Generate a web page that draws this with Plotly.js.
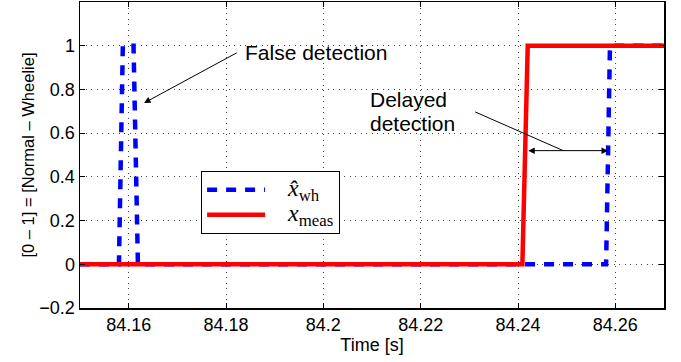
<!DOCTYPE html>
<html>
<head>
<meta charset="utf-8">
<script src="https://cdn.plot.ly/plotly-3.0.1.min.js"></script>
<style>html,body{margin:0;padding:0;background:#fff;}#chart{width:681px;height:362px;}</style>
</head>
<body>
<div id="chart"></div>
<script>
// Estimated detection signal (blue dashed)
const whTime  = [84.15, 84.1580, 84.1588, 84.1610, 84.1619, 84.2581, 84.2589, 84.27];
const whValue = [0,     0,       1,       1,       0,       0,       1,       1];
// Measured signal (red solid)
const measTime  = [84.15, 84.2409, 84.2420, 84.27];
const measValue = [0,     0,       1,       1];

const xTicks = [84.16, 84.18, 84.2, 84.22, 84.24, 84.26];
const xTickText = ['84.16', '84.18', '84.2', '84.22', '84.24', '84.26'];
const yTicks = [-0.2, 0, 0.2, 0.4, 0.6, 0.8, 1];
const yTickText = ['\u22120.2', '0', '0.2', '0.4', '0.6', '0.8', '1'];

const SANS = 'Liberation Sans, Arial, sans-serif';
const SERIF = 'Liberation Serif, Times New Roman, serif';

const traces = [
  {x: whTime, y: whValue, mode: 'lines',
   name: '<span style="font-size:24px">\u00a0\u00a0\u00a0<i>x\u0302</i><sub>wh</sub></span>',
   line: {color: '#0000ff', width: 4.5, dash: '10px,9px'}},
  {x: measTime, y: measValue, mode: 'lines',
   name: '<span style="font-size:24px">\u00a0\u00a0\u00a0<i>x</i><sub>meas</sub></span>',
   line: {color: '#ff0000', width: 4.5}}
];

const axisCommon = {
  showline: true, linecolor: '#000', linewidth: 1.5, mirror: 'ticks',
  ticks: 'inside', ticklen: 5, tickcolor: '#000', tickwidth: 1,
  showgrid: true, gridcolor: '#444', griddash: '1px,4.5px', gridwidth: 1,
  zeroline: false, tickfont: {family: SANS, size: 18, color: '#000'}
};

const layout = {
  width: 681, height: 362,
  margin: {l: 80, r: 17, t: 2, b: 54},
  paper_bgcolor: '#fff', plot_bgcolor: '#fff',
  showlegend: true,
  xaxis: Object.assign({}, axisCommon, {
    range: [84.15, 84.27], tickvals: xTicks, ticktext: xTickText,
    title: {text: 'Time [s]', font: {family: SANS, size: 18, color: '#000'}, standoff: 2}
  }),
  yaxis: Object.assign({}, axisCommon, {
    range: [-0.2, 1.2], tickvals: yTicks, ticktext: yTickText,
    title: {text: '[0 \u2013 1] = [Normal \u2013 Wheelie]', font: {family: SANS, size: 16.5, color: '#000'}, standoff: 0}
  }),
  legend: {
    x: 0.207, y: 0.448, xanchor: 'left', yanchor: 'top',
    bgcolor: '#fff', bordercolor: '#000', borderwidth: 1.2,
    font: {family: SERIF, size: 17, color: '#000'},
    itemwidth: 58, tracegroupgap: 0
  },
  annotations: [
    {x: 84.16316, y: 0.738, xref: 'x', yref: 'y', ax: 84.1825, ay: 0.971, axref: 'x', ayref: 'y',
     text: '', showarrow: true, arrowhead: 2, arrowsize: 1.3, arrowwidth: 1, arrowcolor: '#000'},
    {x: 84.1835, y: 0.971, xref: 'x', yref: 'y', text: 'False detection', showarrow: false,
     xanchor: 'left', yanchor: 'middle', font: {family: SANS, size: 21, color: '#000'}},
    {x: 84.2092, y: 0.755, xref: 'x', yref: 'y', text: 'Delayed', showarrow: false,
     xanchor: 'left', yanchor: 'middle', font: {family: SANS, size: 21, color: '#000'}},
    {x: 84.2092, y: 0.645, xref: 'x', yref: 'y', text: 'detection', showarrow: false,
     xanchor: 'left', yanchor: 'middle', font: {family: SANS, size: 21, color: '#000'}},
    {x: 84.2585, y: 0.52, xref: 'x', yref: 'y', ax: 84.2418, ay: 0.52, axref: 'x', ayref: 'y',
     text: '', showarrow: true, arrowhead: 2, startarrowhead: 2, arrowside: 'end+start', arrowsize: 1.3, startarrowsize: 1.3,
     arrowwidth: 1, arrowcolor: '#000'}
  ],
  shapes: [
    {type: 'line', xref: 'x', yref: 'y', x0: 84.2312, y0: 0.697, x1: 84.2493, y1: 0.52,
     line: {color: '#000', width: 1}}
  ]
};

Plotly.newPlot('chart', traces, layout, {displayModeBar: false, staticPlot: true});
</script>
</body>
</html>
